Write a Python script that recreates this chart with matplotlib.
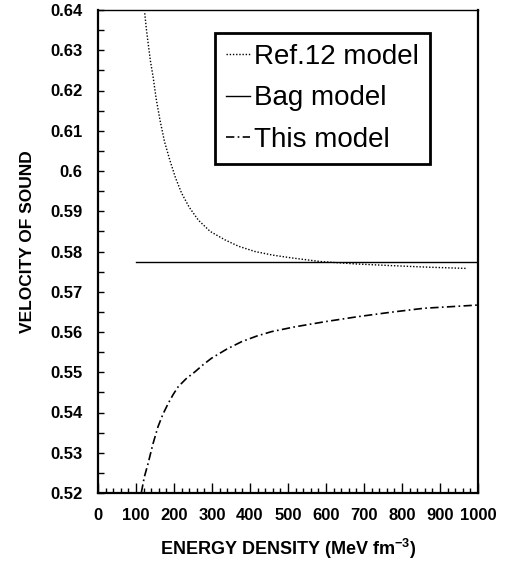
import matplotlib
matplotlib.use("Agg")
import matplotlib.pyplot as plt
from matplotlib.ticker import MultipleLocator

plt.rcParams['font.family'] = ['Liberation Sans', 'DejaVu Sans']
plt.rcParams['mathtext.fontset'] = 'custom'
plt.rcParams['mathtext.rm'] = 'Liberation Sans:bold'
plt.rcParams['mathtext.default'] = 'rm'

# energy density (MeV fm^-3) vs velocity of sound
ref12_x = [123, 127, 132, 138, 145, 153, 163, 175, 189, 204, 220, 240, 264, 295,
           334, 370, 413, 460, 510, 586, 680, 770, 870, 968]
ref12_y = [0.6392, 0.6355, 0.6317, 0.6273, 0.6234, 0.6180, 0.6127, 0.6073, 0.6027,
           0.5983, 0.5945, 0.5910, 0.5878, 0.5850, 0.5829, 0.5813, 0.5800, 0.5791,
           0.5784, 0.5775, 0.5769, 0.5765, 0.5761, 0.5758]

bag_x = [100, 1000]
bag_y = [0.57735, 0.57735]

this_x = [114, 122, 132, 144, 158, 171, 185, 198, 211, 232, 255, 277, 299, 338,
          378, 418, 457, 519, 600, 683, 770, 858, 930, 1000]
this_y = [0.5201, 0.5240, 0.5274, 0.5320, 0.5365, 0.5396, 0.5423, 0.5445, 0.5464,
          0.5484, 0.5501, 0.5519, 0.5535, 0.5557, 0.5576, 0.5590, 0.5601, 0.5613,
          0.5626, 0.5638, 0.5649, 0.5659, 0.5663, 0.5667]

labels = ['Ref.12 model', 'Bag model', 'This model']

fig = plt.figure(figsize=(5.08, 5.72), dpi=100)
ax = fig.add_axes([98 / 508, 1 - 493 / 572, 380 / 508, 483 / 572])

ax.plot(ref12_x, ref12_y, color='black', linestyle=(0, (1, 1.3)), linewidth=1.0, label=labels[0])
ax.plot(bag_x, bag_y, color='black', linestyle='-', linewidth=1.0, label=labels[1])
ax.plot(this_x, this_y, color='black', linestyle=(0, (5, 2, 1, 2)), linewidth=1.2, label=labels[2])

ax.set_xlim(0, 1000)
ax.set_ylim(0.52, 0.64)

ax.xaxis.set_major_locator(MultipleLocator(100))
ax.xaxis.set_minor_locator(MultipleLocator(20))
ax.yaxis.set_major_locator(MultipleLocator(0.01))
ax.yaxis.set_minor_locator(MultipleLocator(0.005))
ax.yaxis.set_major_formatter(plt.FuncFormatter(lambda v, p: ('%.2f' % v).rstrip('0')))

ax.tick_params(axis='x', which='major', direction='in', length=7, width=1, pad=11,
               labelsize=12, top=False)
ax.tick_params(axis='x', which='minor', direction='in', length=3.5, width=1, top=False)
ax.tick_params(axis='y', which='both', direction='in', length=4, width=1, pad=11,
               labelsize=12, right=False)
for lab in ax.get_xticklabels() + ax.get_yticklabels():
    lab.set_fontweight('bold')

for side in ['left', 'bottom', 'right']:
    ax.spines[side].set_linewidth(1.6)
ax.spines['top'].set_linewidth(1.0)

ax.set_xlabel(r'ENERGY DENSITY (MeV fm$^{-3}$)', fontsize=13, fontweight='bold')
ax.xaxis.set_label_coords(0.5, -0.09)
ax.set_ylabel('VELOCITY OF SOUND', fontsize=12.5, fontweight='bold')
ax.yaxis.set_label_coords(-0.165, 0.52)

leg = ax.legend(loc='upper left', bbox_to_anchor=(215 / 508, 1 - 33 / 572),
                bbox_transform=fig.transFigure, fancybox=False, framealpha=1,
                edgecolor='black', handlelength=0.85, handletextpad=0.15,
                labelspacing=0.55, borderpad=0.4, borderaxespad=0,
                prop={'size': 20})
leg.get_frame().set_linewidth(2)

fig.savefig('out.png', dpi=100)
